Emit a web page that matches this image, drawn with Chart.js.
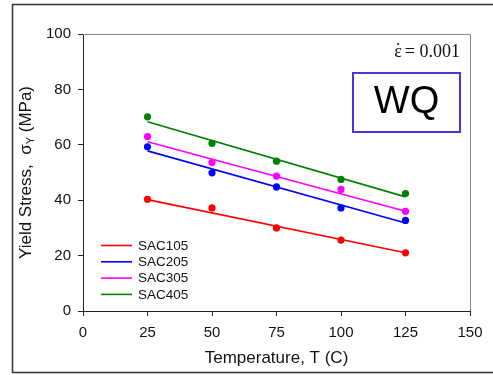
<!DOCTYPE html>
<html>
<head>
<meta charset="utf-8">
<script src="https://cdn.jsdelivr.net/npm/chart.js@4/dist/chart.umd.min.js"></script>
<style>
  html, body { margin: 0; padding: 0; background: #fff; }
  #wrap { position: relative; width: 493px; height: 375px; }
</style>
</head>
<body>
<div id="wrap"><canvas id="graph" width="493" height="375"></canvas></div>
<script>
// temperatures (C)
const temps = [25, 50, 75, 100, 125];
const alloys = ['SAC105', 'SAC205', 'SAC305', 'SAC405'];
const colors = ['#ff0000', '#0000ff', '#ff00ff', '#008000'];

// measured yield stress (MPa)
const sac105 = [40.3, 37.2, 30.0, 25.6, 21.0];
const sac205 = [59.3, 49.9, 44.8, 37.2, 32.7];
const sac305 = [63.0, 53.6, 48.7, 43.9, 36.0];
const sac405 = [70.1, 60.5, 54.1, 47.5, 42.4];

// fitted line ends, at 25 C and 125 C
const fitT = [25, 125];
const fit105 = [40.2, 21.0];
const fit205 = [57.8, 31.8];
const fit305 = [61.1, 36.0];
const fit405 = [68.3, 41.2];

const xTicks = [0, 25, 50, 75, 100, 125, 150];
const yTicks = [0, 20, 40, 60, 80, 100];

const measured = [sac105, sac205, sac305, sac405];
const fits = [fit105, fit205, fit305, fit405];

const datasets = [];
fits.forEach((f, i) => {
    datasets.push({
        label: alloys[i],
        type: 'line',
        data: fitT.map((t, k) => ({ x: t, y: f[k] })),
        borderColor: colors[i],
        borderWidth: 1.6,
        pointRadius: 0,
        fill: false,
        tension: 0
    });
});
measured.forEach((m, i) => {
    datasets.push({
        label: alloys[i] + ' data',
        type: 'scatter',
        data: temps.map((t, k) => ({ x: t, y: m[k] })),
        backgroundColor: colors[i],
        borderColor: colors[i],
        pointRadius: 3.6,
        pointBorderWidth: 0
    });
});

const FONT = 'Arial, "Liberation Sans", sans-serif';
const SERIF = '"Liberation Serif", "Times New Roman", serif';

// cadre, titres, legende et annotations
const extras = {
    id: 'extras',
    beforeDraw(chart) {
        const c = chart.ctx;
        c.save();
        c.fillStyle = '#fff';
        c.fillRect(0, 0, chart.width, chart.height);
        c.strokeStyle = '#333';
        c.lineWidth = 1.5;
        c.strokeRect(12.5, 4.5, 500, 368);
        c.restore();
    },
    afterDraw(chart) {
        const c = chart.ctx;
        const a = chart.chartArea;
        c.save();
        // top + right frame
        c.strokeStyle = '#888';
        c.lineWidth = 1;
        c.beginPath();
        c.moveTo(a.left, a.top + 0.5);
        c.lineTo(a.right + 0.5, a.top + 0.5);
        c.lineTo(a.right + 0.5, a.bottom);
        c.stroke();

        // x title
        c.fillStyle = '#111';
        c.font = '17px ' + FONT;
        c.textAlign = 'center';
        c.textBaseline = 'middle';
        c.fillText('Temperature, T (C)', (a.left + a.right) / 2, 358);

        // y title with subscript
        c.save();
        c.translate(26, (a.top + a.bottom) / 2);
        c.rotate(-Math.PI / 2);
        c.textAlign = 'left';
        c.textBaseline = 'middle';
        const p1 = 'Yield Stress,  \u03C3';
        const p3 = ' (MPa)';
        c.font = '17px ' + FONT;
        const w1 = c.measureText(p1).width;
        const w3 = c.measureText(p3).width;
        c.font = '11px ' + FONT;
        const w2 = c.measureText('Y').width;
        let x0 = -(w1 + w2 + w3) / 2;
        c.font = '17px ' + FONT;
        c.fillText(p1, x0, 0);
        c.font = '11px ' + FONT;
        c.fillText('Y', x0 + w1, 5);
        c.font = '17px ' + FONT;
        c.fillText(p3, x0 + w1 + w2, 0);
        c.restore();

        // legende
        c.font = '13.5px ' + FONT;
        c.textAlign = 'left';
        c.textBaseline = 'middle';
        alloys.forEach((name, i) => {
            const y = 245.5 + i * 16.3;
            c.strokeStyle = colors[i];
            c.lineWidth = 1.6;
            c.beginPath();
            c.moveTo(101, y);
            c.lineTo(132, y);
            c.stroke();
            c.fillStyle = '#111';
            c.fillText(name, 138, y + 0.5);
        });

        // strain rate: epsilon avec point au-dessus
        c.fillStyle = '#111';
        c.font = '18px ' + SERIF;
        c.textBaseline = 'alphabetic';
        c.textAlign = 'right';
        c.fillText('= 0.001', 460, 57);
        const wEq = c.measureText('= 0.001').width;
        const epsX = 460 - wEq - 3;
        c.fillText('\u03B5', epsX, 57);
        const wEps = c.measureText('\u03B5').width;
        c.beginPath();
        c.arc(epsX - wEps / 2, 44, 1.1, 0, Math.PI * 2);
        c.fill();

        // WQ box
        c.strokeStyle = '#4a33e0';
        c.lineWidth = 2;
        c.strokeRect(353, 73, 107, 59);
        c.fillStyle = '#000';
        c.font = '38px ' + FONT;
        c.textAlign = 'center';
        c.textBaseline = 'middle';
        c.fillText('WQ', 406.5, 103);
        c.restore();
    }
};

new Chart(document.getElementById('graph'), {
    data: { datasets },
    options: {
        responsive: false,
        animation: false,
        layout: { padding: { left: 0, top: 34, right: 23, bottom: 0 } },
        plugins: {
            legend: { display: false },
            tooltip: { enabled: false }
        },
        scales: {
            x: {
                type: 'linear',
                min: 0,
                max: 150,
                afterBuildTicks: s => { s.ticks = xTicks.map(v => ({ value: v })); },
                afterFit: s => { s.height = 64; },
                grid: { drawOnChartArea: false, tickLength: 5, color: '#222' },
                border: { color: '#222', width: 1 },
                ticks: { color: '#111', font: { family: FONT, size: 15 }, padding: 8 }
            },
            y: {
                type: 'linear',
                min: 0,
                max: 100,
                afterBuildTicks: s => { s.ticks = yTicks.map(v => ({ value: v })); },
                afterFit: s => { s.width = 83; },
                grid: { drawOnChartArea: false, tickLength: 5, color: '#222' },
                border: { color: '#222', width: 1 },
                ticks: { color: '#111', font: { family: FONT, size: 15 }, padding: 7 }
            }
        }
    },
    plugins: [extras]
});
</script>
</body>
</html>
